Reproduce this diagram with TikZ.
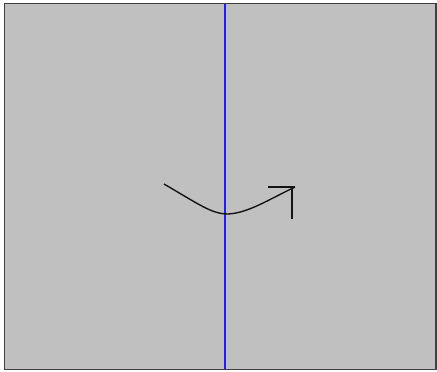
\documentclass[tikz,border=0pt]{standalone}
\usepackage{tikz}
\usepackage{xcolor}
\usetikzlibrary{calc}
\definecolor{figPanel}{RGB}{192,192,192}
\definecolor{figFrame}{RGB}{64,64,64}
\definecolor{figAxis}{RGB}{30,30,250}
\definecolor{figInk}{RGB}{20,20,20}

\begin{document}
\begin{tikzpicture}[
  x=1pt,y=-1pt,
  panel/.style={fill=figPanel,draw=figFrame,line width=1.6pt},
  axis/.style={draw=figAxis,line width=1.8pt},
  stroke/.style={draw=figInk,line width=1.4pt},
  tipline/.style={draw=figInk,line width=1.8pt}
]
\useasboundingbox (0,0) rectangle (437,372);
\path[panel] (4.5,3.5) rectangle (436,369.5);

% mirror axis
\coordinate (axistop) at (225,4);
\coordinate (axisbot) at (225,369);
\draw[axis] (axistop) -- (axisbot);

% curved arrow
\coordinate (start) at (164,184);
\coordinate (low) at (228,214);
\coordinate (tip) at (295,187);
\draw[stroke] (start) .. controls (200,205) and (212,214) .. (low)
  .. controls (248,213) and (268,200) .. (tip);
\draw[tipline] (tip) -- ++(-27,0);
\draw[tipline] ($(tip)+(-3,1)$) -- ++(0,31);

\end{tikzpicture}
\end{document}
